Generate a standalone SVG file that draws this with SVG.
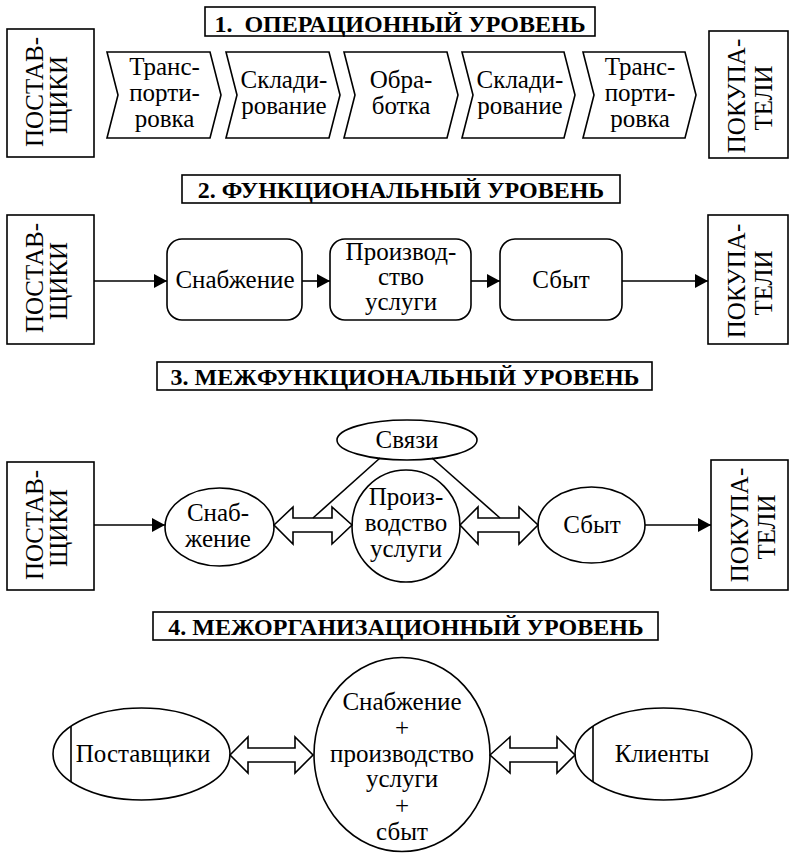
<svg xmlns="http://www.w3.org/2000/svg" width="790" height="853" viewBox="0 0 790 853" font-family="Liberation Serif, DejaVu Serif, serif">
<style>
.s{fill:#fff;stroke:#000;stroke-width:1.6}
.ln{fill:none;stroke:#000;stroke-width:1.6}
.t{font-size:25px;fill:#000;text-anchor:middle}
.h{font-size:24px;font-weight:bold;fill:#000;text-anchor:middle}
</style>
<defs>
<marker id="ar" markerWidth="13" markerHeight="14" refX="13" refY="7" orient="auto" markerUnits="userSpaceOnUse">
<path d="M0,0 L13,7 L0,14 Z" fill="#000"/>
</marker>
</defs>
<rect width="790" height="853" fill="#fff"/>

<!-- Section 1 -->
<g id="title1"><rect class="s" x="205" y="7" width="390" height="29"/><text class="h" x="400" y="32">1.&#160; ОПЕРАЦИОННЫЙ УРОВЕНЬ</text></g>
<g id="sup1"><rect class="s" x="7" y="29" width="87" height="128"/>
<text class="t" transform="translate(43,92) rotate(-90)">ПОСТАВ-</text>
<text class="t" transform="translate(67,95) rotate(-90)">ЩИКИ</text></g>
<g id="cust1"><rect class="s" x="709" y="31" width="79" height="127"/>
<text class="t" transform="translate(745,96) rotate(-90)">ПОКУПА-</text>
<text class="t" transform="translate(772,98) rotate(-90)">ТЕЛИ</text></g>
<g id="ch1"><polygon class="s" points="107,52 210,52 221,95 210,138 107,138 118,95"/>
<text class="t" x="164.5" y="75">Транс-</text><text class="t" x="164.5" y="101">порти-</text><text class="t" x="164.5" y="127">ровка</text></g>
<g id="ch2"><polygon class="s" points="226,52 329,52 340,95 329,138 226,138 237,95"/>
<text class="t" x="284" y="88">Склади-</text><text class="t" x="284" y="114">рование</text></g>
<g id="ch3"><polygon class="s" points="344,52 447,52 458,95 447,138 344,138 355,95"/>
<text class="t" x="401" y="88">Обра-</text><text class="t" x="401" y="114">ботка</text></g>
<g id="ch4"><polygon class="s" points="462,52 564,52 575,95 564,138 462,138 473,95"/>
<text class="t" x="520" y="88">Склади-</text><text class="t" x="520" y="114">рование</text></g>
<g id="ch5"><polygon class="s" points="583,52 685,52 696,95 685,138 583,138 594,95"/>
<text class="t" x="640" y="75">Транс-</text><text class="t" x="640" y="101">порти-</text><text class="t" x="640" y="127">ровка</text></g>

<!-- Section 2 -->
<g id="title2"><rect class="s" x="182" y="175" width="438" height="28"/><text class="h" x="401" y="198">2. ФУНКЦИОНАЛЬНЫЙ УРОВЕНЬ</text></g>
<g id="sup2"><rect class="s" x="7" y="215" width="87" height="129"/>
<text class="t" transform="translate(43,278) rotate(-90)">ПОСТАВ-</text>
<text class="t" transform="translate(67,281) rotate(-90)">ЩИКИ</text></g>
<g id="cust2"><rect class="s" x="708" y="215" width="80" height="129"/>
<text class="t" transform="translate(745,281) rotate(-90)">ПОКУПА-</text>
<text class="t" transform="translate(772,283) rotate(-90)">ТЕЛИ</text></g>
<g id="supply2"><rect class="s" x="167" y="239" width="135" height="81" rx="15"/><text class="t" x="235" y="288">Снабжение</text></g>
<g id="prod2"><rect class="s" x="330" y="239" width="141" height="81" rx="15"/>
<text class="t" x="401" y="260">Производ-</text><text class="t" x="401" y="285">ство</text><text class="t" x="401" y="310">услуги</text></g>
<g id="sales2"><rect class="s" x="500" y="239" width="122" height="81" rx="15"/><text class="t" x="561" y="288">Сбыт</text></g>

<!-- Section 3 -->
<g id="title3"><rect class="s" x="157" y="362" width="495" height="28"/><text class="h" x="405" y="385">3. МЕЖФУНКЦИОНАЛЬНЫЙ УРОВЕНЬ</text></g>
<g id="sup3"><rect class="s" x="7" y="462" width="87" height="128"/>
<text class="t" transform="translate(43,525) rotate(-90)">ПОСТАВ-</text>
<text class="t" transform="translate(67,528) rotate(-90)">ЩИКИ</text></g>
<g id="cust3"><rect class="s" x="711" y="460" width="77" height="130"/>
<text class="t" transform="translate(748,525) rotate(-90)">ПОКУПА-</text>
<text class="t" transform="translate(775,527) rotate(-90)">ТЕЛИ</text></g>
<g id="supply3"><ellipse class="s" cx="219.5" cy="527" rx="54.5" ry="39"/>
<text class="t" x="218" y="521">Снаб-</text><text class="t" x="218" y="547">жение</text></g>
<g id="links3"><ellipse class="s" cx="407" cy="440" rx="70" ry="20"/><text class="t" x="407" y="448">Связи</text></g>
<g id="prod3"><ellipse class="s" cx="406" cy="526" rx="54" ry="56"/>
<text class="t" x="406" y="505">Произ-</text><text class="t" x="406" y="531">водство</text><text class="t" x="406" y="557">услуги</text></g>
<g id="sales3"><ellipse class="s" cx="591.5" cy="525" rx="53.5" ry="38"/><text class="t" x="592" y="533">Сбыт</text></g>

<!-- Section 4 -->
<g id="title4"><rect class="s" x="153" y="612" width="505" height="28"/><text class="h" x="406" y="635">4. МЕЖОРГАНИЗАЦИОННЫЙ УРОВЕНЬ</text></g>
<g id="sup4"><ellipse class="s" cx="141.5" cy="754" rx="88.5" ry="46"/><line class="ln" x1="71" y1="726" x2="71" y2="782"/>
<text class="t" x="143" y="762">Поставщики</text></g>
<g id="center4"><ellipse class="s" cx="402" cy="754.5" rx="88" ry="97"/>
<text class="t" x="402" y="710">Снабжение</text><text class="t" x="402" y="736">+</text><text class="t" x="402" y="762">производство</text>
<text class="t" x="402" y="787">услуги</text><text class="t" x="402" y="814">+</text><text class="t" x="402" y="840">сбыт</text></g>
<g id="clients4"><ellipse class="s" cx="663.5" cy="754" rx="88.5" ry="46"/><line class="ln" x1="593" y1="726" x2="593" y2="782"/>
<text class="t" x="662" y="762">Клиенты</text></g>

<!-- Connectors -->
<g id="connectors">
<line class="ln" x1="94" y1="281" x2="167" y2="281" marker-end="url(#ar)"/>
<line class="ln" x1="302" y1="281" x2="330" y2="281" marker-end="url(#ar)"/>
<line class="ln" x1="471" y1="281" x2="500" y2="281" marker-end="url(#ar)"/>
<line class="ln" x1="622" y1="281" x2="708" y2="281" marker-end="url(#ar)"/>
<line class="ln" x1="94" y1="525" x2="165" y2="525" marker-end="url(#ar)"/>
<line class="ln" x1="645" y1="525" x2="711" y2="525" marker-end="url(#ar)"/>
<polygon class="s" points="274,525 293,507 293,518 332,518 332,507 352,525 332,544 332,532 293,532 293,544"/>
<polygon class="s" points="460,525 478,507 478,518 519,518 519,507 538,525 519,544 519,532 478,532 478,544"/>
<line class="ln" x1="380" y1="458" x2="313" y2="518"/>
<line class="ln" x1="432" y1="458" x2="500" y2="518"/>
<polygon class="s" points="230,755 248,737 248,748 295,748 295,737 313,755 295,773 295,762 248,762 248,773"/>
<polygon class="s" points="490,755 510,737 510,748 557,748 557,737 575,755 557,773 557,762 510,762 510,773"/>
</g>
</svg>
